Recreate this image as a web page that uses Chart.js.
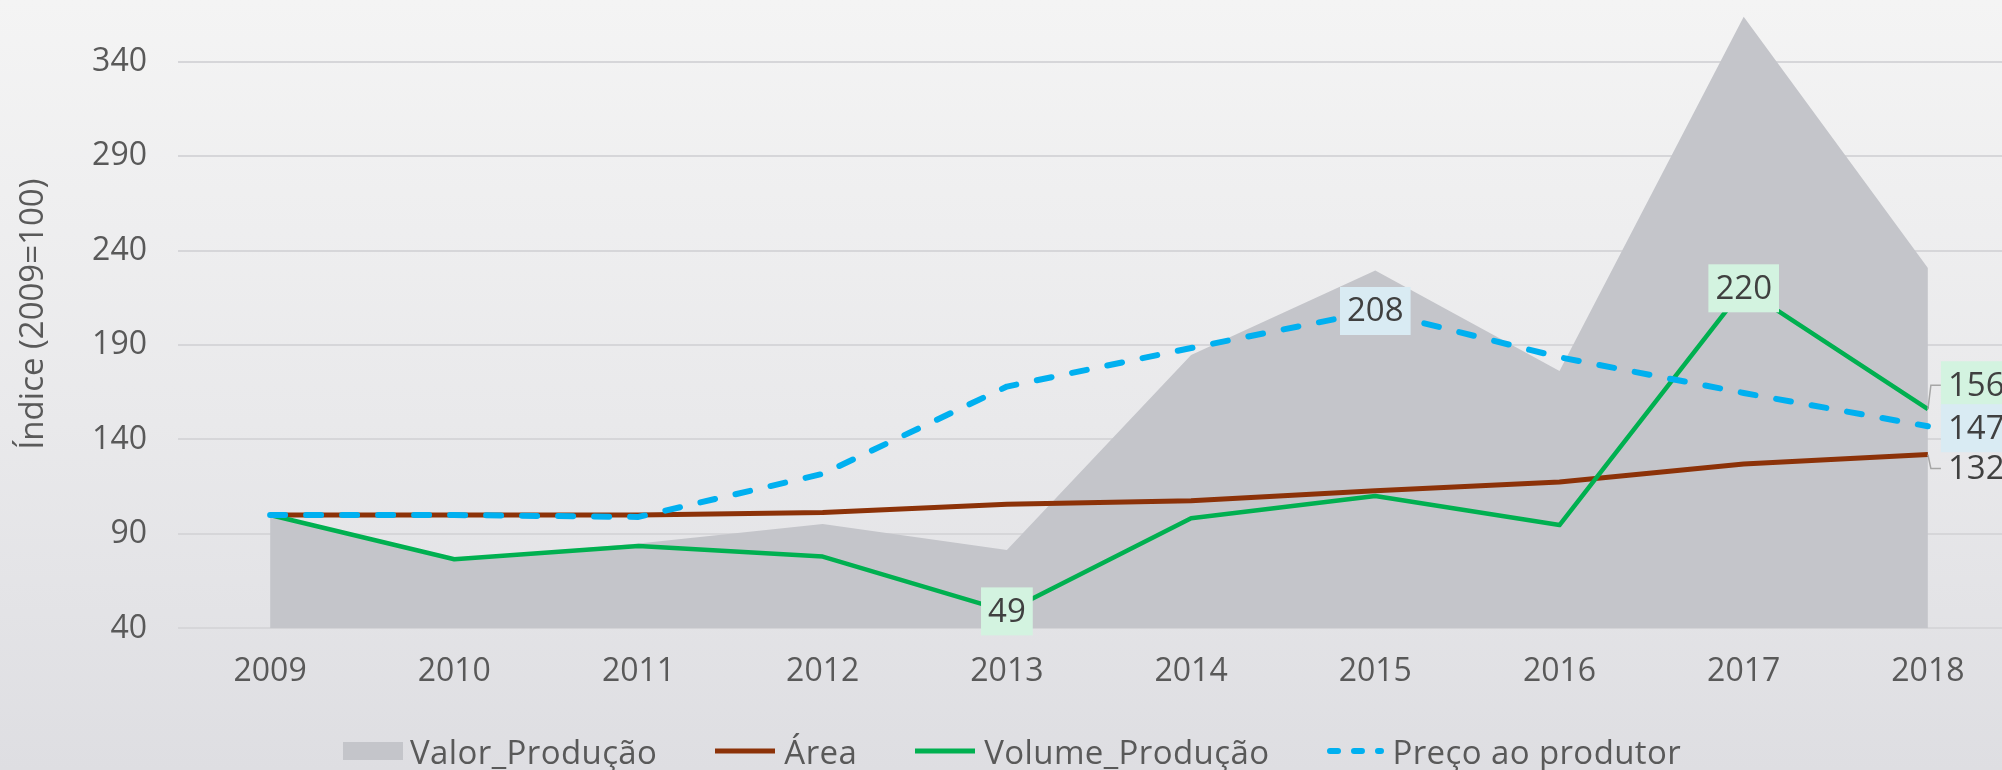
<!DOCTYPE html>
<html>
<head>
<meta charset="utf-8">
<script src="https://cdn.jsdelivr.net/npm/chart.js@4.4.1/dist/chart.umd.min.js"></script>
<style>
  html, body {
    margin: 0;
    width: 2002px;
    height: 770px;
    overflow: hidden;
    background: linear-gradient(#f4f4f4, #e9e9eb 55%, #dedee2);
    font-family: 'Open Sans', 'Noto Sans', sans-serif;
  }
  #wrap { position: absolute; left: 0; top: 0; width: 2020px; height: 770px; }
  #legend {
    position: absolute; left: 343px; top: 731px; height: 40px;
    display: flex; align-items: center; gap: 56px;
    font-size: 33px; letter-spacing: 0.4px; color: #595959; white-space: nowrap;
  }
  #legend .item { display: flex; align-items: center; gap: 7px; }
  #legend .sw { width: 60px; height: 18px; }
</style>
</head>
<body>
<div id="wrap"><canvas id="chart"></canvas></div>
<div id="legend"></div>
<script>
// categories and series (índice, 2009 = 100)
const years = ['2009', '2010', '2011', '2012', '2013', '2014', '2015', '2016', '2017', '2018'];
const valorProducao = [100, 76.6, 85, 95.3, 81.5, 184.7, 229.4, 176.3, 363.8, 230.7];
const areaColhida = [100, 100, 100, 101.3, 105.7, 107.6, 112.9, 117.5, 127, 132];
const volumeProducao = [100, 76.6, 83.6, 78, 49, 98.3, 110.1, 94.7, 220, 156];
const precoProdutor = [100, 100, 99, 121.8, 168, 188.4, 208, 183.5, 164.6, 147];
const yTicks = [40, 90, 140, 190, 240, 290, 340];
const seriesNames = ['Valor_Produção', 'Área', 'Volume_Produção', 'Preço ao produtor'];

const grey = '#c4c5ca';
const brown = '#8c3208';
const green = '#00b050';
const blue = '#00b0f0';
const greenBox = '#d3f3e0';
const blueBox = '#d9ebf3';
const textColor = '#595959';
const fontFamily = "'Open Sans', 'Noto Sans', sans-serif";

// which points get a value label, and how
const labelSpecs = [
  { ds: 2, idx: 4, bg: greenBox },
  { ds: 2, idx: 8, bg: greenBox },
  { ds: 3, idx: 6, bg: blueBox },
  { ds: 2, idx: 9, bg: greenBox, side: true, dy: -24, leader: true },
  { ds: 3, idx: 9, bg: blueBox, side: true, dy: 2 },
  { ds: 1, idx: 9, bg: null, side: true, dy: 14, leader: true }
];

const valueLabels = {
  id: 'valueLabels',
  afterDatasetsDraw(chart) {
    const ctx = chart.ctx;
    ctx.save();
    ctx.font = '33px ' + fontFamily;
    ctx.textBaseline = 'middle';
    const h = 48, padX = 7;
    labelSpecs.forEach(s => {
      const pt = chart.getDatasetMeta(s.ds).data[s.idx];
      const text = String(Math.round(chart.data.datasets[s.ds].data[s.idx]));
      const w = ctx.measureText(text).width + padX * 2;
      let cy, left;
      if (s.side) {
        left = pt.x + 13;
        cy = pt.y + s.dy;
      } else {
        left = pt.x - w / 2;
        cy = pt.y;
      }
      if (s.leader) {
        ctx.strokeStyle = '#a6a6a6';
        ctx.lineWidth = 1.5;
        ctx.beginPath();
        ctx.moveTo(pt.x, pt.y);
        ctx.lineTo(pt.x + 3, cy);
        ctx.lineTo(left, cy);
        ctx.stroke();
      }
      if (s.bg) {
        ctx.fillStyle = s.bg;
        ctx.fillRect(left, cy - h / 2, w, h);
      }
      ctx.fillStyle = '#404040';
      ctx.textAlign = 'left';
      ctx.fillText(text, left + padX, cy + 1);
    });
    ctx.restore();
  }
};

const chart = new Chart(document.getElementById('chart'), {
  type: 'line',
  data: {
    labels: years,
    datasets: [
      {
        label: seriesNames[0],
        data: valorProducao,
        fill: 'start',
        backgroundColor: grey,
        borderWidth: 0,
        pointRadius: 0,
        tension: 0,
        order: 3
      },
      {
        label: seriesNames[1],
        data: areaColhida,
        borderColor: brown,
        borderWidth: 5,
        borderJoinStyle: 'round',
        pointRadius: 0,
        tension: 0,
        order: 2
      },
      {
        label: seriesNames[2],
        data: volumeProducao,
        borderColor: green,
        borderWidth: 4.5,
        borderJoinStyle: 'round',
        pointRadius: 0,
        tension: 0,
        order: 1
      },
      {
        label: seriesNames[3],
        data: precoProdutor,
        borderColor: blue,
        borderWidth: 6,
        borderDash: [15, 21],
        borderCapStyle: 'round',
        borderJoinStyle: 'round',
        pointRadius: 0,
        tension: 0,
        order: 0
      }
    ]
  },
  options: {
    responsive: true,
    maintainAspectRatio: false,
    animation: false,
    layout: { autoPadding: false, padding: { top: 0, right: 0, bottom: 81.6, left: 0 } },
    plugins: {
      legend: { display: false },
      tooltip: { enabled: false }
    },
    scales: {
      x: {
        offset: true,
        grid: { display: false, drawTicks: false },
        border: { display: false },
        ticks: { color: textColor, font: { family: fontFamily, size: 32 }, padding: 24, maxRotation: 0 },
        afterFit: s => { s.height = 60; s.paddingLeft = 0; s.paddingRight = 0; }
      },
      y: {
        min: 40,
        max: 372.6,
        afterBuildTicks: s => { s.ticks = yTicks.map(v => ({ value: v })); },
        grid: { color: '#d6d6d9', lineWidth: 2, drawTicks: false },
        border: { display: false },
        ticks: { color: textColor, font: { family: fontFamily, size: 32 }, padding: 31 },
        title: {
          display: true,
          text: 'Índice (2009=100)',
          color: textColor,
          font: { family: fontFamily, size: 33 },
          padding: { top: 14, bottom: 0 }
        },
        afterFit: s => { s.width = 178; s.paddingTop = 0; s.paddingBottom = 0; }
      }
    }
  },
  plugins: [valueLabels]
});

// legend built from the same series
const legend = document.getElementById('legend');
const swatches = [
  '<div class="sw" style="background:' + grey + '"></div>',
  '<svg width="64" height="18"><line x1="2" y1="9" x2="62" y2="9" stroke="' + brown + '" stroke-width="5"/></svg>',
  '<svg width="64" height="18"><line x1="2" y1="9" x2="62" y2="9" stroke="' + green + '" stroke-width="5"/></svg>',
  '<svg width="60" height="18"><line x1="5" y1="9" x2="56" y2="9" stroke="' + blue + '" stroke-width="6" stroke-linecap="round" stroke-dasharray="8 16"/></svg>'
];
seriesNames.forEach((name, i) => {
  const item = document.createElement('div');
  item.className = 'item';
  item.innerHTML = swatches[i] + '<span>' + name + '</span>';
  legend.appendChild(item);
});
</script>
</body>
</html>
